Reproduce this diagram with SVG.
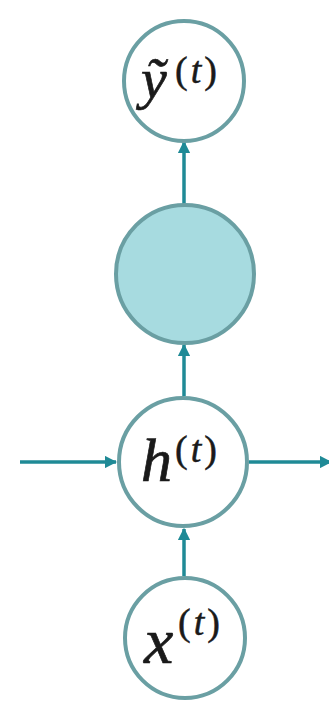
<svg xmlns="http://www.w3.org/2000/svg" width="329" height="704" viewBox="0 0 329 704">
<defs>
<marker id="ah" viewBox="0 0 10 10" refX="9" refY="5" markerWidth="3.5" markerHeight="3.5" orient="auto" markerUnits="strokeWidth">
<path d="M0,0 L10,5 L0,10 z" fill="#1f8a96"/>
</marker>
<style>
.node{fill:#ffffff;stroke:#6a9fa3;stroke-width:4}
.filled{fill:#a7dbe0;stroke:#6a9fa3;stroke-width:4}
.conn{stroke:#1f8a96;stroke-width:3.5;fill:none;marker-end:url(#ah)}
.lbl{font-style:italic;fill:#1a1a1a;stroke:#1a1a1a;stroke-width:0.7}
.sup{fill:#1a1a1a;stroke:#1a1a1a;stroke-width:0.5;letter-spacing:3px}
</style>
</defs>
<rect width="329" height="704" fill="#ffffff"/>
<g id="connectors">
<line class="conn" x1="184" y1="204" x2="184" y2="142"/>
<line class="conn" x1="184" y1="396" x2="184" y2="345"/>
<line class="conn" x1="184" y1="576" x2="184" y2="529"/>
<line class="conn" x1="20" y1="462" x2="116" y2="462"/>
<line class="conn" x1="249" y1="462" x2="331" y2="462"/>
</g>
<g id="node-y" font-family="'Liberation Serif', serif">
<circle class="node" cx="184" cy="81" r="60"/>
<text class="lbl" x="141" y="98" font-size="58">ỹ</text>
<text class="sup" x="175" y="83" font-size="38">(<tspan font-style="italic">t</tspan>)</text>
</g>
<g id="node-hidden">
<circle class="filled" cx="185" cy="274" r="69"/>
</g>
<g id="node-h" font-family="'Liberation Serif', serif">
<circle class="node" cx="183" cy="462" r="64"/>
<text class="lbl" x="141" y="481" font-size="62">h</text>
<text class="sup" x="175" y="462" font-size="38">(<tspan font-style="italic">t</tspan>)</text>
</g>
<g id="node-x" font-family="'Liberation Serif', serif">
<circle class="node" cx="185" cy="638" r="60"/>
<text class="lbl" x="144" y="663" font-size="66">x</text>
<text class="sup" x="178" y="635" font-size="38">(<tspan font-style="italic">t</tspan>)</text>
</g>
</svg>
